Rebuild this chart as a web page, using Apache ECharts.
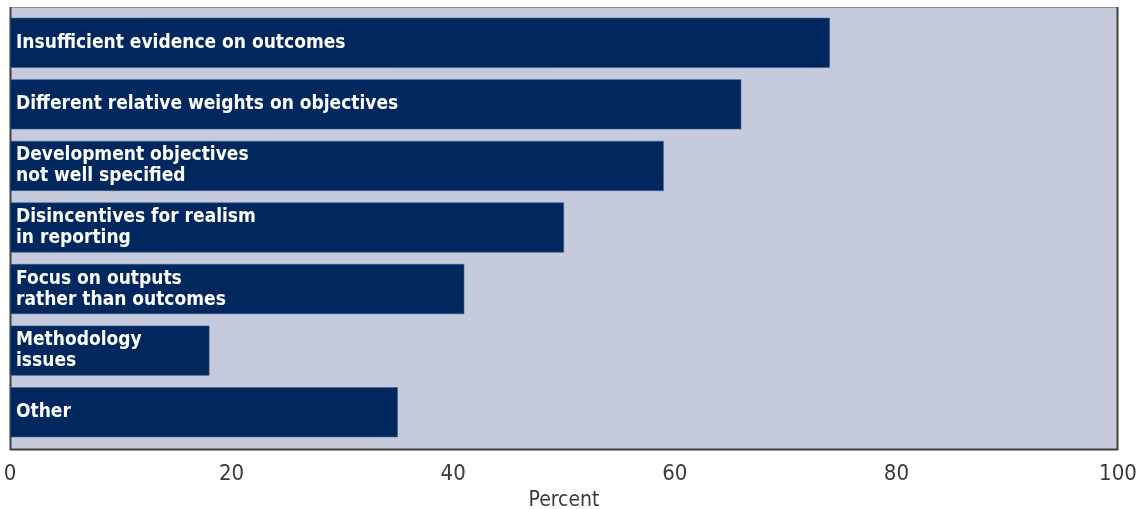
<!DOCTYPE html>
<html>
<head>
<meta charset="utf-8">
<script src="https://cdn.jsdelivr.net/npm/echarts@6/dist/echarts.min.js"></script>
<style>
  html, body { margin: 0; padding: 0; background: #ffffff; }
  #chart { width: 1138px; height: 509px; }
</style>
</head>
<body>
<div id="chart"></div>
<script>
// Reasons cited, top to bottom
const categories = [
  'Insufficient evidence on outcomes',
  'Different relative weights on objectives',
  'Development objectives\nnot well specified',
  'Disincentives for realism\nin reporting',
  'Focus on outputs\nrather than outcomes',
  'Methodology\nissues',
  'Other'
];
// Share of respondents, percent
const percentValues = [74, 66, 59, 50, 41, 18, 35];
const tickValues = [0, 20, 40, 60, 80, 100];

const NAVY = '#00285e';
const PANEL = '#c5cadd';
const FRAME_DARK = '#3c3c44';
const LABEL_FONT = '"Liberation Sans Narrow", "DejaVu Sans Condensed", "Roboto Condensed", sans-serif';

const chart = echarts.init(document.getElementById('chart'), null, { renderer: 'canvas' });

// Panel frame sits slightly outside the band area of the category axis
const frame = { x1: 10, y1: 7, x2: 1118, y2: 450 };

chart.setOption({
  animation: false,
  backgroundColor: '#ffffff',
  grid: { left: 10, right: 20, top: 12, height: 431, containLabel: false, outerBoundsMode: 'none' },
  graphic: [
    { type: 'rect', z: -10, silent: true,
      shape: { x: frame.x1, y: frame.y1, width: frame.x2 - frame.x1, height: frame.y2 - frame.y1 },
      style: { fill: PANEL } },
    { type: 'line', z: -9, silent: true,
      shape: { x1: frame.x1, y1: frame.y1 + 0.5, x2: frame.x2, y2: frame.y1 + 0.5 },
      style: { stroke: '#8a8a90', lineWidth: 1 } },
    { type: 'line', z: -9, silent: true,
      shape: { x1: frame.x1 + 0.5, y1: frame.y1, x2: frame.x1 + 0.5, y2: frame.y2 },
      style: { stroke: FRAME_DARK, lineWidth: 2 } },
    { type: 'line', z: -9, silent: true,
      shape: { x1: frame.x2 - 0.5, y1: frame.y1, x2: frame.x2 - 0.5, y2: frame.y2 },
      style: { stroke: FRAME_DARK, lineWidth: 2 } },
    { type: 'line', z: -9, silent: true,
      shape: { x1: frame.x1, y1: frame.y2 - 0.5, x2: frame.x2, y2: frame.y2 - 0.5 },
      style: { stroke: FRAME_DARK, lineWidth: 2 } }
  ],
  xAxis: {
    type: 'value',
    min: tickValues[0],
    max: tickValues[tickValues.length - 1],
    interval: tickValues[1] - tickValues[0],
    name: 'Percent',
    nameLocation: 'middle',
    nameGap: 44,
    nameTextStyle: { color: '#3a3a3a', fontSize: 21, fontFamily: LABEL_FONT },
    axisLine: { show: false },
    axisTick: { show: false },
    splitLine: { show: false },
    axisLabel: { color: '#3a3a3a', fontSize: 22, margin: 20, fontFamily: LABEL_FONT }
  },
  yAxis: {
    type: 'category',
    data: categories,
    inverse: true,
    axisLine: { show: false },
    axisTick: { show: false },
    axisLabel: { show: false },
    splitLine: { show: false }
  },
  series: [{
    type: 'bar',
    data: percentValues,
    barWidth: 50,
    itemStyle: { color: NAVY, borderColor: '#3d5a8a', borderWidth: 0.6 },
    label: {
      show: true,
      position: 'insideLeft',
      distance: 6,
      formatter: p => categories[p.dataIndex],
      color: '#ffffff',
      fontWeight: 'bold',
      fontSize: 19,
      lineHeight: 21,
      fontFamily: LABEL_FONT
    }
  }]
});
</script>
</body>
</html>
